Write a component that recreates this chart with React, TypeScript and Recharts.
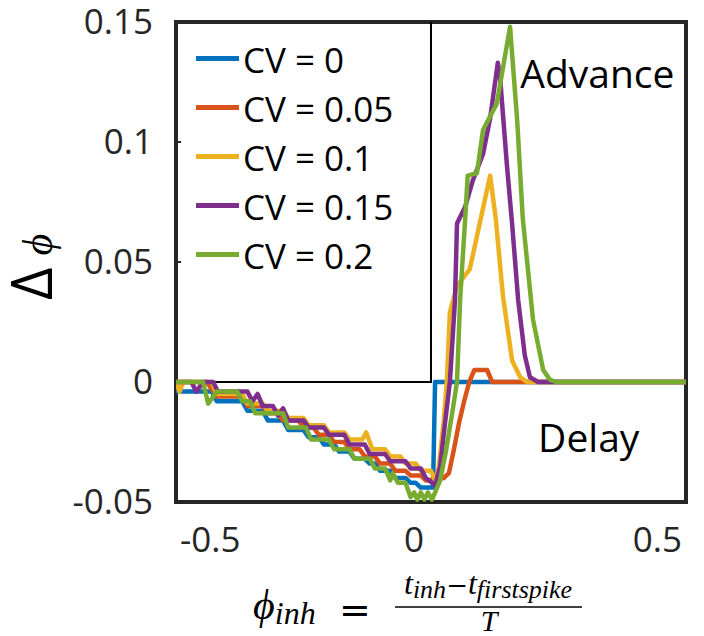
import React from "react"
import {
  LineChart,
  Line,
  XAxis,
  YAxis,
  Legend,
  ReferenceArea,
  ReferenceLine,
  ReferenceDot,
} from "recharts"

// axis ticks
const xTicks = [-0.5, 0, 0.5]
const yTicks = [-0.05, 0, 0.05, 0.1, 0.15]

// series names / colours
const cvNames = ["CV = 0", "CV = 0.05", "CV = 0.1", "CV = 0.15", "CV = 0.2"]
const cvColors = ["#0072BD", "#D95319", "#EDB120", "#7E2F8E", "#77AC30"]

// CV = 0
const blueX = [-0.5, -0.43, -0.42, -0.37, -0.36, -0.33, -0.32, -0.29, -0.28, -0.25, -0.24, -0.22, -0.21, -0.19, -0.18, -0.16, -0.15, -0.13, -0.12, -0.11, -0.1, -0.08, -0.07, -0.05, -0.04, -0.03, -0.02, 0.004, 0.008, 0.5]
const blueY = [-0.004, -0.004, -0.008, -0.008, -0.012, -0.012, -0.016, -0.016, -0.02, -0.02, -0.023, -0.023, -0.026, -0.026, -0.029, -0.029, -0.032, -0.032, -0.034, -0.034, -0.037, -0.037, -0.04, -0.04, -0.042, -0.042, -0.044, -0.044, 0, 0]

// CV = 0.05
const orangeX = [-0.5, -0.44, -0.42, -0.37, -0.36, -0.33, -0.32, -0.3, -0.29, -0.26, -0.25, -0.23, -0.22, -0.2, -0.19, -0.17, -0.16, -0.14, -0.13, -0.11, -0.1, -0.08, -0.07, -0.05, -0.04, -0.02, -0.01, 0.025, 0.035, 0.045, 0.055, 0.065, 0.075, 0.085, 0.11, 0.12, 0.5]
const orangeY = [0, 0, -0.006, -0.006, -0.01, -0.01, -0.013, -0.013, -0.016, -0.016, -0.019, -0.019, -0.022, -0.022, -0.025, -0.025, -0.028, -0.028, -0.031, -0.031, -0.034, -0.034, -0.037, -0.037, -0.039, -0.039, -0.041, -0.04, -0.038, -0.028, -0.017, -0.008, 0, 0.005, 0.005, 0, 0]

// CV = 0.1
const yellowX = [-0.5, -0.493, -0.486, -0.43, -0.42, -0.37, -0.36, -0.33, -0.32, -0.29, -0.28, -0.25, -0.24, -0.21, -0.2, -0.17, -0.16, -0.135, -0.127, -0.115, -0.09, -0.08, -0.06, -0.05, -0.03, -0.02, 0, 0.008, 0.015, 0.025, 0.031, 0.037, 0.051, 0.076, 0.116, 0.127, 0.141, 0.159, 0.175, 0.188, 0.5]
const yellowY = [0, -0.004, 0, 0, -0.005, -0.005, -0.009, -0.009, -0.012, -0.012, -0.015, -0.015, -0.018, -0.018, -0.021, -0.021, -0.024, -0.024, -0.021, -0.028, -0.028, -0.031, -0.031, -0.034, -0.034, -0.037, -0.037, -0.041, -0.036, -0.016, 0, 0.029, 0.04, 0.047, 0.086, 0.068, 0.036, 0.009, 0.002, 0, 0]

// CV = 0.15
const purpleX = [-0.5, -0.47, -0.46, -0.447, -0.427, -0.418, -0.36, -0.35, -0.34, -0.33, -0.31, -0.3, -0.29, -0.28, -0.25, -0.24, -0.21, -0.2, -0.17, -0.16, -0.13, -0.12, -0.09, -0.08, -0.05, -0.04, -0.02, -0.01, 0.008, 0.018, 0.027, 0.037, 0.047, 0.051, 0.067, 0.082, 0.102, 0.116, 0.131, 0.135, 0.149, 0.159, 0.171, 0.184, 0.194, 0.21, 0.5]
const purpleY = [0, 0, -0.004, 0, 0, -0.004, -0.004, -0.008, -0.005, -0.01, -0.01, -0.014, -0.011, -0.016, -0.016, -0.019, -0.019, -0.022, -0.022, -0.026, -0.026, -0.03, -0.03, -0.033, -0.033, -0.036, -0.036, -0.04, -0.043, -0.035, -0.018, 0, 0.034, 0.066, 0.073, 0.084, 0.095, 0.11, 0.133, 0.128, 0.09, 0.066, 0.034, 0.011, 0.002, 0, 0]

// CV = 0.2
const greenX = [-0.5, -0.447, -0.437, -0.42, -0.38, -0.37, -0.355, -0.345, -0.29, -0.28, -0.245, -0.235, -0.2, -0.19, -0.16, -0.15, -0.12, -0.11, -0.09, -0.08, -0.075, -0.065, -0.05, -0.04, -0.033, -0.027, -0.02, -0.013, -0.006, 0.002, 0.018, 0.03, 0.043, 0.051, 0.057, 0.067, 0.072, 0.09, 0.102, 0.129, 0.155, 0.169, 0.18, 0.2, 0.22, 0.233, 0.245, 0.5]
const greenY = [0, 0, -0.009, -0.004, -0.004, -0.008, -0.008, -0.013, -0.013, -0.019, -0.019, -0.024, -0.024, -0.028, -0.028, -0.032, -0.032, -0.036, -0.036, -0.041, -0.038, -0.042, -0.042, -0.048, -0.046, -0.049, -0.046, -0.049, -0.046, -0.049, -0.041, -0.028, -0.011, 0, 0.034, 0.068, 0.086, 0.087, 0.105, 0.116, 0.148, 0.109, 0.068, 0.026, 0.005, 0.001, 0, 0]

// black guide: zero line for x<0, vertical at x=0
const guideX = [-0.5, 0, 0]
const guideY = [0, 0, 0.15]

// text annotations
const notes = [
  { text: "Advance", x: 0.175, y: 0.1225 },
  { text: "Delay", x: 0.21, y: -0.0292 },
]

const toPoints = (xs: number[], ys: number[]) =>
  xs.map((x, i) => ({ x, y: ys[i] }))

const seriesX = [blueX, orangeX, yellowX, purpleX, greenX]
const seriesY = [blueY, orangeY, yellowY, purpleY, greenY]

const SANS = "'Open Sans', sans-serif"
const SERIF = "'Liberation Serif', serif"
const MATH = "'DejaVu Serif', serif"

const XTick = (props: any) => {
  const { x, y, payload, index } = props
  const last = xTicks.length - 1
  const anchor = index === 0 ? "start" : index === last ? "end" : "middle"
  const shift = index === 0 ? 4 : index === last ? -4 : -17
  return (
    <text
      x={x + shift}
      y={y}
      dy="0.71em"
      textAnchor={anchor}
      fontSize={35}
      fontFamily={SANS}
      fill="#262626"
    >
      {payload.value}
    </text>
  )
}

const XTitle = (props: any) => {
  const vb = props.viewBox
  const left = vb.x
  const top = vb.y
  return (
    <g>
      <text x={left + 77} y={top + 117} fontFamily={SERIF} fontStyle="italic" fontSize={42}>
        ϕ<tspan fontSize={32} dy={5}>inh</tspan>
      </text>
      <text x={left + 163} y={top + 121} fontFamily={MATH} fontSize={38}>
        =
      </text>
      <text x={left + 228} y={top + 92} fontFamily={SERIF} fontStyle="italic" fontSize={32}>
        t<tspan fontSize={26} dy={4}>inh</tspan>
        <tspan dy={-4} fontStyle="normal" fontFamily={MATH} fontSize={26}>−</tspan>
        <tspan>t</tspan>
        <tspan fontSize={26} dy={4}>firstspike</tspan>
      </text>
      <line x1={left + 219} x2={left + 406} y1={top + 105} y2={top + 105} stroke="#000" strokeWidth={1.5} />
      <text x={left + 313} y={top + 129} textAnchor="middle" fontFamily={SERIF} fontStyle="italic" fontSize={30}>
        T
      </text>
    </g>
  )
}

const YTitle = () => (
  <text transform="translate(52,300) rotate(-90)">
    <tspan fontFamily={SANS} fontSize={56}>Δ</tspan>
    <tspan fontFamily={SERIF} fontStyle="italic" fontSize={42} dx={12}>ϕ</tspan>
  </text>
)

const NoteLabel = (text: string) => (props: any) => {
  const vb = props.viewBox
  return (
    <text x={vb.x} y={vb.y} fontFamily={SANS} fontSize={39} fill="#000">
      {text}
    </text>
  )
}

const renderLegend = (props: any) => {
  const items = (props.payload || []).filter((p: any) => p.type !== "none")
  return (
    <div style={{ fontFamily: SANS, fontSize: 35, color: "#000" }}>
      {items.map((p: any) => (
        <div
          key={p.value}
          style={{ display: "flex", alignItems: "center", height: 49 }}
        >
          <div style={{ width: 43, height: 5, background: p.color, marginRight: 4, marginTop: -2 }} />
          <span style={{ lineHeight: "49px", whiteSpace: "nowrap" }}>{p.value}</span>
        </div>
      ))}
    </div>
  )
}

export default function App() {
  return (
    <div style={{ position: "absolute", left: 0, top: 0, background: "#fff" }}>
      <LineChart
        width={704}
        height={636}
        margin={{ top: 22, right: 18, bottom: 84, left: 116 }}
      >
        <XAxis
          type="number"
          dataKey="x"
          domain={[-0.5, 0.5]}
          ticks={xTicks}
          interval={0}
          allowDataOverflow
          axisLine={false}
          tickLine={false}
          tickSize={0}
          tickMargin={25}
          height={50}
          tick={<XTick />}
          label={(p: any) => <XTitle {...p} />}
        />
        <YAxis
          type="number"
          dataKey="y"
          domain={[-0.05, 0.15]}
          ticks={yTicks}
          interval={0}
          allowDataOverflow
          axisLine={false}
          tickLine={false}
          tickSize={0}
          tickMargin={23}
          width={60}
          tick={{ fontSize: 35, fontFamily: SANS, fill: "#262626" }}
          label={() => <YTitle />}
        />

        <ReferenceArea
          x1={-0.5}
          x2={0.5}
          y1={-0.05}
          y2={0.15}
          fill="none"
          stroke="#262626"
          strokeWidth={4}
        />

        {[0.05, 0.1].map((v) => (
          <ReferenceLine
            key={"yt" + v}
            segment={[{ x: -0.5, y: v }, { x: -0.49, y: v }]}
            stroke="#262626"
            strokeWidth={2}
          />
        ))}

        <Line
          data={toPoints(guideX, guideY)}
          dataKey="y"
          type="linear"
          stroke="#000"
          strokeWidth={2}
          dot={false}
          legendType="none"
          isAnimationActive={false}
        />

        {cvNames.map((name, i) => (
          <Line
            key={name}
            name={name}
            data={toPoints(seriesX[i], seriesY[i])}
            dataKey="y"
            type="linear"
            stroke={cvColors[i]}
            strokeWidth={4.5}
            strokeLinejoin="round"
            dot={false}
            isAnimationActive={false}
          />
        ))}

        {notes.map((n) => (
          <ReferenceDot
            key={n.text}
            x={n.x}
            y={n.y}
            r={0}
            fill="none"
            stroke="none"
            label={NoteLabel(n.text)}
          />
        ))}

        <Legend
          layout="vertical"
          align="center"
          verticalAlign="middle"
          content={renderLegend}
          wrapperStyle={{ left: 196, top: 35, width: "auto" }}
        />
      </LineChart>
    </div>
  )
}
